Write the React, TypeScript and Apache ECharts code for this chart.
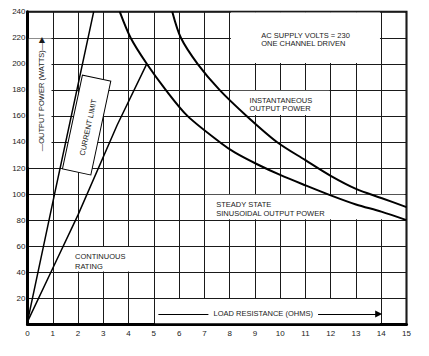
import React, { useEffect, useRef } from 'react';
import * as echarts from 'echarts';

// Load resistance (ohms) / output power (watts)
const steadyR = [3.65, 4.08, 4.72, 5.47, 6.33, 7.6, 8.2, 9.13, 10, 11, 12, 13, 14, 15];
const steadyP = [240, 220, 200, 180, 160, 140, 132, 122.5, 114.7, 106.7, 99, 92, 86.5, 80];

const instR = [5.73, 6.07, 6.73, 7.6, 8.67, 9.87, 11, 12, 13, 14, 15];
const instP = [240, 220, 200, 180, 160, 140, 126, 114, 104, 97, 90];

const currentR = [0, 1.07, 2.62];
const currentP = [2, 100, 240];

const contR = [0, 1, 2, 3.55, 4.72];
const contP = [2, 43, 84, 153, 200];

const W = 429;
const H = 356;
const FONT = '"Liberation Sans", Arial, sans-serif';

// white label panels (data coords) that hide the grid
const panels: number[][][] = [
  [[0.05, 120.6], [0.95, 219.4]],
  [[8.05, 200.6], [13.95, 239.4]],
  [[8.05, 160.6], [11.95, 179.4]],
  [[7.05, 80.6], [14.93, 99.4]],
  [[1.05, 40.6], [4.95, 59.4]],
  [[5.05, 0.8], [13.95, 19.4]],
];

export default function App() {
  const ref = useRef<HTMLDivElement>(null);
  useEffect(() => {
    const chart = echarts.init(ref.current!, null, { renderer: 'svg', width: W, height: H });
    const pairs = (xs: number[], ys: number[]) => xs.map((x, i) => [x, ys[i]]);
    const gridLine = { show: true, lineStyle: { color: '#1a1a1a', width: 1 } };
    chart.setOption({
      animation: false,
      backgroundColor: '#ffffff',
      grid: {
        left: 27.5, right: 22.5, top: 11.7, bottom: 31.7,
        show: true, borderColor: '#000', borderWidth: 2, backgroundColor: 'transparent',
      },
      xAxis: {
        type: 'value', min: 0, max: 15, interval: 1,
        axisLine: { show: true, onZero: false, lineStyle: { color: '#000', width: 3 } },
        axisTick: { show: false },
        splitLine: gridLine,
        axisLabel: { margin: 5, fontSize: 8, color: '#222', fontFamily: FONT },
      },
      yAxis: {
        type: 'value', min: 0, max: 240, interval: 20,
        axisLine: { show: true, lineStyle: { color: '#000', width: 3 } },
        axisTick: { show: false },
        splitLine: gridLine,
        axisLabel: { margin: 2, fontSize: 8, color: '#222', fontFamily: FONT, showMinLabel: false },
      },
      series: [
        {
          type: 'line', z: 1, data: [[0, 0]], showSymbol: false, silent: true,
          lineStyle: { width: 0, opacity: 0 },
          markArea: {
            silent: true,
            itemStyle: { color: '#ffffff', borderWidth: 0 },
            label: { show: false },
            data: panels.map((b) => [{ coord: b[0] }, { coord: b[1] }]),
          },
          markLine: {
            silent: true,
            symbol: ['none', 'none'],
            label: { show: false },
            lineStyle: { color: '#000', width: 1, type: 'solid' },
            data: [
              [{ coord: [5.18, 8] }, { coord: [7.16, 8] }],
              [{ coord: [11.5, 8], symbol: 'none' }, { coord: [13.9, 8], symbol: 'triangle', symbolSize: [7, 7] }],
            ],
          },
        },
        {
          type: 'line', z: 3, data: pairs(steadyR, steadyP), smooth: 0.3, showSymbol: false,
          lineStyle: { color: '#000', width: 2 },
        },
        {
          type: 'line', z: 3, data: pairs(instR, instP), smooth: 0.3, showSymbol: false,
          lineStyle: { color: '#000', width: 2 },
        },
        {
          type: 'line', z: 3, data: pairs(currentR, currentP), showSymbol: false,
          lineStyle: { color: '#000', width: 1.5 },
        },
        {
          type: 'line', z: 3, data: pairs(contR, contP), showSymbol: false,
          lineStyle: { color: '#000', width: 1.5 },
        },
      ],
    });

    const px = (x: number, y: number) => chart.convertToPixel({ gridIndex: 0 }, [x, y]) as number[];
    const txt = (x: number, y: number, text: string, extra: any = {}) => {
      const [a, b] = px(x, y);
      return {
        type: 'text', x: a, y: b, z: 100,
        style: {
          text, fill: '#1a1a1a', fontSize: 7.5, fontFamily: FONT,
          textAlign: 'left', align: 'left', textVerticalAlign: 'middle', verticalAlign: 'middle',
          ...extra,
        },
      };
    };
    const ylab = px(0.56, 176.8);
    const cl = px(2.34, 153);
    const rot = (78 * Math.PI) / 180;
    chart.setOption({
      graphic: [
        txt(9.25, 222, 'AC SUPPLY VOLTS = 230'),
        txt(9.25, 215.6, 'ONE CHANNEL DRIVEN'),
        txt(8.79, 172.2, 'INSTANTANEOUS'),
        txt(8.79, 165.7, 'OUTPUT POWER'),
        txt(7.47, 91.8, 'STEADY STATE'),
        txt(7.47, 84.7, 'SINUSOIDAL OUTPUT POWER'),
        txt(1.88, 52.2, 'CONTINUOUS'),
        txt(1.88, 44.5, 'RATING'),
        txt(7.36, 8, 'LOAD RESISTANCE (OHMS)'),
        {
          type: 'text', x: ylab[0], y: ylab[1], rotation: Math.PI / 2, z: 100,
          style: {
            text: '\u2014OUTPUT POWER (WATTS)\u2014\u25B6', fill: '#1a1a1a', fontSize: 7.5, fontFamily: FONT,
            textAlign: 'center', align: 'center', textVerticalAlign: 'middle', verticalAlign: 'middle',
          },
        },
        {
          type: 'group', x: cl[0], y: cl[1], rotation: rot, z: 100,
          children: [
            {
              type: 'rect', z: 100,
              shape: { x: -48, y: -14.5, width: 96, height: 29 },
              style: { fill: '#fff', stroke: '#000', lineWidth: 1 },
            },
            {
              type: 'text', x: -2, y: 2, z: 101,
              style: {
                text: 'CURRENT LIMIT', fill: '#1a1a1a', fontSize: 7.5, fontFamily: FONT,
                textAlign: 'center', align: 'center', textVerticalAlign: 'middle', verticalAlign: 'middle',
              },
            },
          ],
        },
      ],
    });
    return () => chart.dispose();
  }, []);
  return <div ref={ref} style={{ position: 'absolute', left: 0, top: 0, width: W, height: H, background: '#fff' }} />;
}
